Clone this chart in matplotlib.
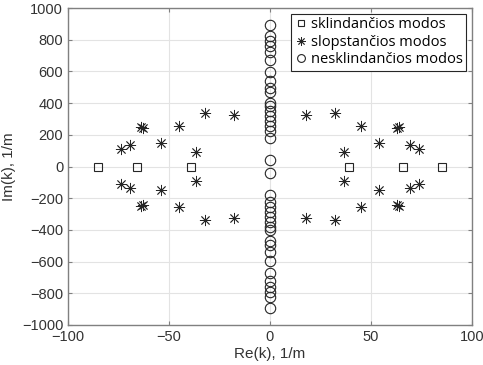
import matplotlib
matplotlib.use("Agg")
import matplotlib.pyplot as plt

# sklindancios modos (propagating) - on real axis
sq_re = [-85, -66, -39, 39, 66, 85]
sq_im = [0, 0, 0, 0, 0, 0]

# slopstancios modos (evanescent, complex) - upper right quadrant, mirrored
st_re_q = [18, 32, 36.5, 45, 54, 63, 64, 69.5, 74]
st_im_q = [325, 340, 93, 253, 148, 243, 250, 137, 113]

# nesklindancios modos (non-propagating) - on imaginary axis, upper half, mirrored
ci_im_q = [40, 182, 224, 256, 287, 319, 350, 382, 403, 467, 498, 540,
           597, 670, 720, 762, 793, 825, 892]

st_re = []
st_im = []
for sx in (1, -1):
    for sy in (1, -1):
        st_re += [sx * v for v in st_re_q]
        st_im += [sy * v for v in st_im_q]

ci_im = ci_im_q + [-v for v in ci_im_q]
ci_re = [0] * len(ci_im)

plt.rcParams['font.family'] = ['Liberation Sans', 'DejaVu Sans']

fig = plt.figure(figsize=(4.83, 3.65), dpi=100)
ax = fig.add_axes([68 / 483, 1 - 325 / 365, (472 - 68) / 483, (325 - 8) / 365])

mk = '#262626'
ax.plot(sq_re, sq_im, linestyle='none', marker='s', markersize=6,
        markerfacecolor='none', markeredgecolor=mk, markeredgewidth=0.8,
        label='sklindančios modos')
ax.plot(st_re, st_im, linestyle='none', marker=(8, 2, 0), markersize=8,
        markeredgecolor=mk, markeredgewidth=0.6, color=mk,
        label='slopstančios modos')
ax.plot(ci_re, ci_im, linestyle='none', marker='o', markersize=7.5,
        markerfacecolor='none', markeredgecolor=mk, markeredgewidth=0.8,
        label='nesklindančios modos')

ax.set_xlim(-100, 100)
ax.set_ylim(-1000, 1000)
ax.set_xticks([-100, -50, 0, 50, 100])
ax.set_yticks(range(-1000, 1001, 200))
ax.grid(True, color='#e3e3e3', linewidth=0.8)
ax.set_axisbelow(True)
ax.tick_params(direction='in', top=True, right=True, length=3, width=0.8,
               colors='#808080', labelcolor='#333333', labelsize=10.5)
for s in ax.spines.values():
    s.set_color('#808080')
    s.set_linewidth(1.0)

ax.set_xlabel('Re(k), 1/m', fontsize=11, color='#333333', labelpad=2)
ax.set_ylabel('Im(k), 1/m', fontsize=11, color='#333333', labelpad=4)

leg = ax.legend(loc='upper right', prop={'family': ['Open Sans', 'DejaVu Sans'], 'size': 10.5},
                fancybox=False, framealpha=1, edgecolor='#262626', markerscale=0.75,
                handletextpad=0.2, handlelength=0.9, borderpad=0.25,
                labelspacing=0.15, borderaxespad=0.4)
leg.get_frame().set_linewidth(0.8)

fig.savefig('out.png', dpi=100)
